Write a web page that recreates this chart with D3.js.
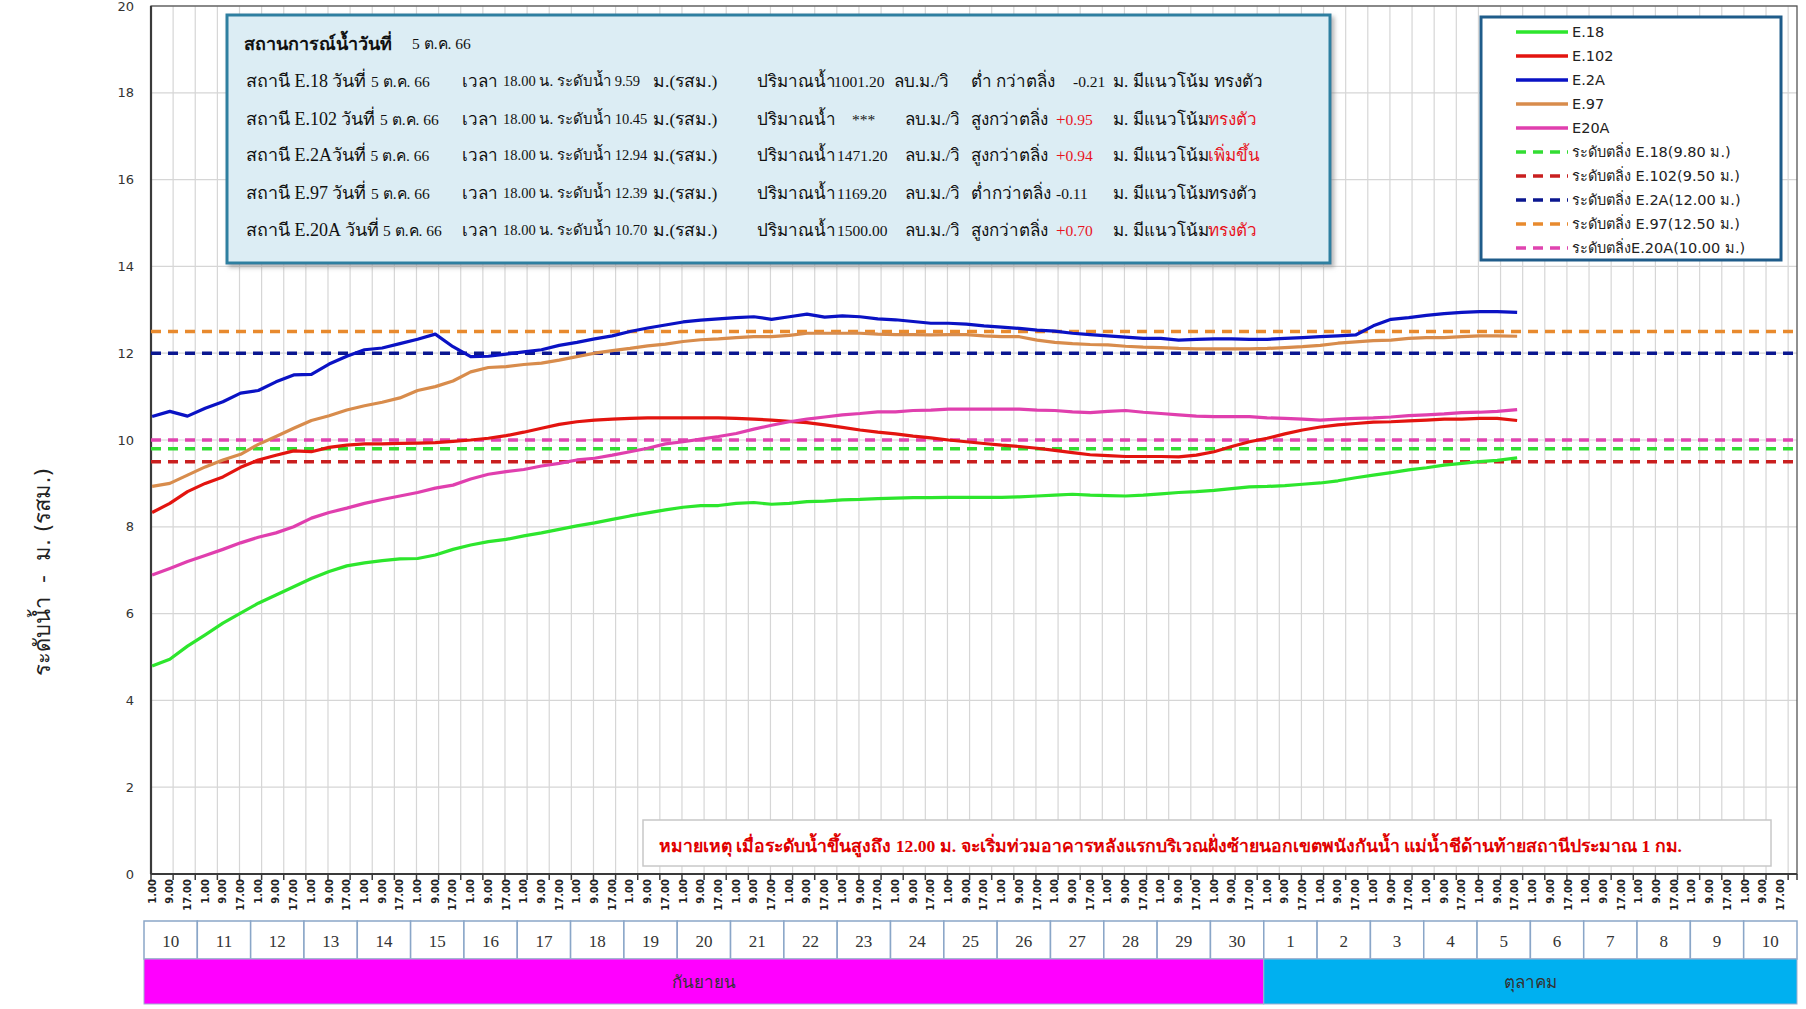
<!DOCTYPE html>
<html><head><meta charset="utf-8">
<script src="https://cdn.jsdelivr.net/npm/d3@7"></script>
<style>body{margin:0;background:#fff;overflow:hidden} svg{display:block}</style>
</head><body>
<svg id="c" width="1806" height="1009"></svg>
<script>
// ---------------- DATA ----------------
const dayLabels = [10,11,12,13,14,15,16,17,18,19,20,21,22,23,24,25,26,27,28,29,30,1,2,3,4,5,6,7,8,9,10];
const monthNames = ["กันยายน","ตุลาคม"];
const monthDayCounts = [21,10];
const hourTickLabels = ["1.00","9.00","17.00"];
const yTickValues = [0,2,4,6,8,10,12,14,16,18,20];
const seriesNames = ["E.18","E.102","E.2A","E.97","E20A"];

// values sampled at 1.00, 9.00, 17.00 of each day from 10 Sep, last point = 5 Oct 18.00
const e18 = [4.79,4.95,5.25, 5.51,5.78,6.01, 6.24,6.43,6.62, 6.81,6.97,7.10, 7.17,7.22,7.26,
  7.27,7.35,7.48, 7.58,7.66,7.71, 7.79,7.86,7.94, 8.02,8.09,8.17, 8.25,8.32,8.39,
  8.45,8.49,8.49, 8.54,8.56,8.52, 8.54,8.58,8.59, 8.62,8.63,8.65, 8.66,8.67,8.67,
  8.68,8.68,8.68, 8.68,8.69,8.71, 8.73,8.75,8.73, 8.72,8.71,8.73, 8.76,8.79,8.81,
  8.84,8.88,8.92, 8.93,8.95,8.98, 9.01,9.06,9.13, 9.19,9.25,9.31, 9.36,9.42,9.46, 9.50,9.53,9.59];
const e102 = [8.33,8.54,8.81, 9.00,9.15,9.37, 9.54,9.65,9.75, 9.73,9.83,9.88, 9.91,9.91,9.92,
  9.93,9.94,9.97, 10.00,10.04,10.10, 10.18,10.27,10.36, 10.42,10.46,10.48, 10.50,10.51,10.51,
  10.51,10.51,10.51, 10.50,10.48,10.46, 10.43,10.40,10.35, 10.29,10.23,10.18, 10.14,10.09,10.05,
  10.00,9.96,9.92, 9.88,9.85,9.81, 9.76,9.71,9.66, 9.64,9.62,9.62, 9.62,9.61,9.65,
  9.73,9.85,9.96, 10.04,10.14,10.23, 10.30,10.35,10.38, 10.41,10.42,10.44, 10.46,10.48,10.48, 10.50,10.50,10.45];
const e2a = [10.54,10.66,10.55, 10.73,10.88,11.08, 11.14,11.34,11.50, 11.51,11.75,11.93, 12.08,12.12,12.22,
  12.32,12.44,12.15, 11.92,11.93,11.98, 12.03,12.08,12.18, 12.25,12.33,12.40, 12.50,12.58,12.65,
  12.72,12.76,12.79, 12.82,12.84,12.78, 12.84,12.90,12.83, 12.86,12.84,12.79, 12.77,12.73,12.69,
  12.69,12.67,12.63, 12.60,12.57,12.53, 12.51,12.46,12.43, 12.40,12.37,12.34, 12.34,12.30,12.32,
  12.33,12.33,12.32, 12.32,12.34,12.36, 12.38,12.40,12.42, 12.63,12.78,12.82, 12.87,12.91,12.94, 12.96,12.96,12.94];
const e97 = [8.93,9.00,9.19, 9.38,9.54,9.67, 9.90,10.08,10.27, 10.45,10.56,10.69, 10.79,10.87,10.97,
  11.14,11.23,11.36, 11.57,11.67,11.69, 11.74,11.77,11.84, 11.92,12.00,12.06, 12.11,12.17,12.21,
  12.27,12.31,12.33, 12.36,12.38,12.38, 12.41,12.46,12.46, 12.46,12.46,12.44, 12.43,12.43,12.42,
  12.43,12.43,12.40, 12.38,12.38,12.30, 12.25,12.22,12.20, 12.19,12.16,12.14, 12.13,12.11,12.10,
  12.10,12.10,12.10, 12.11,12.13,12.15, 12.18,12.23,12.26, 12.29,12.30,12.34, 12.36,12.36,12.38, 12.40,12.40,12.39];
const e20a = [6.89,7.04,7.20, 7.34,7.48,7.63, 7.76,7.86,8.00, 8.20,8.33,8.43, 8.54,8.63,8.71,
  8.79,8.89,8.96, 9.10,9.21,9.27, 9.32,9.40,9.46, 9.54,9.58,9.65, 9.73,9.81,9.91,
  9.96,10.02,10.08, 10.15,10.25,10.34, 10.42,10.48,10.53, 10.58,10.61,10.65, 10.65,10.68,10.69,
  10.71,10.71,10.71, 10.71,10.71,10.69, 10.68,10.65,10.63, 10.66,10.68,10.64, 10.61,10.58,10.55,
  10.54,10.54,10.54, 10.51,10.50,10.48, 10.46,10.48,10.50, 10.51,10.53,10.56, 10.58,10.60,10.63, 10.64,10.66,10.70];
const thresholdValues = [9.80, 9.50, 12.00, 12.50, 10.00];
const thresholdNames = ["ระดับตลิ่ง E.18(9.80 ม.)","ระดับตลิ่ง E.102(9.50 ม.)","ระดับตลิ่ง E.2A(12.00 ม.)","ระดับตลิ่ง E.97(12.50 ม.)","ระดับตลิ่งE.20A(10.00 ม.)"];

// info box table
const infoTitle = "สถานการณ์น้ำวันที่";
const infoDate = "5 ต.ค. 66";
const infoStations = ["E.18 ","E.102 ","E.2A","E.97 ","E.20A "];
const infoTime = "18.00";
const infoLevels = ["9.59","10.45","12.94","12.39","10.70"];
const infoFlows = ["1001.20","***","1471.20","1169.20","1500.00"];
const infoCompare = ["ต่ำ กว่าตลิ่ง","สูงกว่าตลิ่ง","สูงกว่าตลิ่ง","ต่ำกว่าตลิ่ง","สูงกว่าตลิ่ง"];
const infoDiffs = ["-0.21","+0.95","+0.94","-0.11","+0.70"];
const infoTrends = ["ทรงตัว","ทรงตัว","เพิ่มขึ้น","ทรงตัว","ทรงตัว"];
const infoTrendRed = [false,true,true,false,true];
const noteText = "หมายเหตุ เมื่อระดับน้ำขึ้นสูงถึง 12.00 ม. จะเริ่มท่วมอาคารหลังแรกบริเวณฝั่งซ้ายนอกเขตพนังกันน้ำ แม่น้ำชีด้านท้ายสถานีประมาณ 1 กม.";
const yTitle = "ระดับน้ำ  -  ม. (รสม.)";

// ---------------- STYLE / LAYOUT ----------------
const lineColors = ["#2de62d","#e3140f","#0a12c4","#d88c4c","#e03fae"];
const dashColors = ["#33dd33","#c91f1f","#0b1790","#e88a2e","#e044b0"];
const plot = {left:151, right:1797, top:6, bottom:874};
const hoursPerDay = 24;
const nHours = dayLabels.length * hoursPerDay;
const sampleHours = e18.map((_, k) => Math.floor(k/3)*hoursPerDay + [0,8,16][k%3]);
sampleHours[sampleHours.length-1] = 25*hoursPerDay + 17;

const svg = d3.select("#c");
const x = d3.scaleLinear().domain([0, nHours]).range([plot.left, plot.right]);
const y = d3.scaleLinear().domain([0, 20]).range([plot.bottom, plot.top]);
const xc = h => x(h + 0.5);

const sansFont = "'DejaVu Sans', 'Noto Sans', sans-serif";
const serifFont = "'Liberation Serif', 'DejaVu Serif', serif";

// grid
const grid = svg.append("g");
grid.selectAll("line.h").data(yTickValues.filter(v => v > 0)).join("line")
  .attr("x1", plot.left).attr("x2", plot.right)
  .attr("y1", d => y(d)).attr("y2", d => y(d))
  .attr("stroke", "#d6d6d6").attr("stroke-width", 1.2);
const vTicks = d3.range(10, nHours, 10);
grid.selectAll("line.v").data(vTicks).join("line")
  .attr("x1", d => x(d)).attr("x2", d => x(d))
  .attr("y1", plot.top).attr("y2", plot.bottom)
  .attr("stroke", "#d6d6d6").attr("stroke-width", 1.2);

// frame
svg.append("rect").attr("x", plot.left).attr("y", plot.top)
  .attr("width", plot.right - plot.left).attr("height", plot.bottom - plot.top)
  .attr("fill", "none").attr("stroke", "#555").attr("stroke-width", 1.3);
svg.append("line").attr("x1", plot.left).attr("x2", plot.left).attr("y1", plot.top).attr("y2", plot.bottom)
  .attr("stroke", "#3a3a3a").attr("stroke-width", 2.2);
svg.append("line").attr("x1", plot.left).attr("x2", plot.right).attr("y1", plot.bottom).attr("y2", plot.bottom)
  .attr("stroke", "#3a3a3a").attr("stroke-width", 1.8);

// y axis labels
svg.append("g").selectAll("text").data(yTickValues).join("text")
  .attr("x", 134).attr("y", d => y(d)).attr("dy", "0.35em")
  .attr("text-anchor", "end").attr("font-family", sansFont).attr("font-size", 13)
  .attr("fill", "#333").text(d => d);

// x ticks
svg.append("g").selectAll("line").data([0, ...vTicks, nHours]).join("line")
  .attr("x1", d => x(d)).attr("x2", d => x(d))
  .attr("y1", plot.bottom).attr("y2", plot.bottom + 6)
  .attr("stroke", "#3a3a3a").attr("stroke-width", 1.5);
const labelHours = d3.range(0, nHours, 8);
svg.append("g").selectAll("text").data(labelHours).join("text")
  .attr("transform", d => `translate(${xc(d)},${plot.bottom + 5}) rotate(-90)`)
  .attr("dy", "0.35em").attr("text-anchor", "end")
  .attr("font-family", sansFont).attr("font-size", 10).attr("font-weight", "bold").attr("fill", "#222")
  .text(d => hourTickLabels[(d % 24) / 8]);

// threshold dashed lines
const thr = svg.append("g");
thresholdValues.forEach((v, i) => {
  thr.append("line").attr("x1", x(0)).attr("x2", x(nHours))
    .attr("y1", y(v)).attr("y2", y(v))
    .attr("stroke", dashColors[i]).attr("stroke-width", 3.6).attr("stroke-dasharray", "10,7");
});

// series
const allSeries = [e18, e102, e2a, e97, e20a];
const lineGen = d3.line().x(d => xc(d.h)).y(d => y(d.v));
allSeries.forEach((s, i) => {
  const pts = s.map((v, k) => ({h: sampleHours[k], v}));
  svg.append("path").datum(pts).attr("d", lineGen)
    .attr("fill", "none").attr("stroke", lineColors[i]).attr("stroke-width", 3.2)
    .attr("stroke-linejoin", "round");
});

// y title
svg.append("text").attr("transform", "translate(42,572) rotate(-90)")
  .attr("text-anchor", "middle").attr("dy", "0.35em")
  .attr("font-family", sansFont).attr("font-size", 22).attr("fill", "#222")
  .style("white-space", "pre").text(yTitle);

// day table
const tbl = {left:144, right:1797, top:921, mid:959, bottom:1004};
const xd = d3.scaleBand().domain(d3.range(dayLabels.length)).range([tbl.left, tbl.right]);
const dayG = svg.append("g");
dayG.selectAll("rect").data(dayLabels).join("rect")
  .attr("x", (d, i) => xd(i)).attr("y", tbl.top).attr("width", xd.bandwidth()).attr("height", tbl.mid - tbl.top)
  .attr("fill", "#fff").attr("stroke", "#8aa6c8").attr("stroke-width", 1.5);
dayG.selectAll("text").data(dayLabels).join("text")
  .attr("x", (d, i) => xd(i) + xd.bandwidth()/2).attr("y", (tbl.top + tbl.mid)/2 + 1).attr("dy", "0.35em")
  .attr("text-anchor", "middle").attr("font-family", serifFont).attr("font-size", 17).attr("fill", "#333")
  .text(d => d);
const monthColors = ["#ff00ff", "#00b0f0"];
let startDay = 0;
monthNames.forEach((m, i) => {
  const x0 = xd(startDay), x1 = xd(startDay + monthDayCounts[i] - 1) + xd.bandwidth();
  svg.append("rect").attr("x", x0).attr("y", tbl.mid).attr("width", x1 - x0).attr("height", tbl.bottom - tbl.mid)
    .attr("fill", monthColors[i]).attr("stroke", "#a0b0d0").attr("stroke-width", 1);
  svg.append("text").attr("x", (x0 + x1)/2).attr("y", (tbl.mid + tbl.bottom)/2 + 1).attr("dy", "0.35em")
    .attr("text-anchor", "middle").attr("font-family", sansFont).attr("font-size", 17).attr("fill", "#333").text(m);
  startDay += monthDayCounts[i];
});

// info box
const defs = svg.append("defs");
const f = defs.append("filter").attr("id", "sh").attr("x", "-5%").attr("y", "-5%").attr("width", "115%").attr("height", "120%");
f.append("feDropShadow").attr("dx", 3).attr("dy", 3).attr("stdDeviation", 2).attr("flood-color", "#888").attr("flood-opacity", 0.6);
svg.append("rect").attr("x", 227).attr("y", 15).attr("width", 1103).attr("height", 248)
  .attr("fill", "#dcedf4").attr("stroke", "#2f7fa0").attr("stroke-width", 3).attr("filter", "url(#sh)");
const info = svg.append("g").attr("font-family", serifFont).attr("font-size", 17).attr("fill", "#111");
info.append("text").attr("x", 244).attr("y", 44).attr("dy", "0.35em").attr("font-weight", "bold").attr("font-size", 18).text(infoTitle);
info.append("text").attr("x", 412).attr("y", 44).attr("dy", "0.35em").attr("font-size", 15.5).text(infoDate);
const rowY = [81, 119, 155, 193, 230];
const red = "#e8141e";
function seg(parts, xPos, yPos, color, size, nSize) {
  const t = info.append("text").attr("x", xPos).attr("y", yPos).attr("dy", "0.35em").attr("fill", color)
    .style("white-space", "pre");
  if (size) t.attr("font-size", size);
  parts.forEach(p => t.append("tspan").attr("font-size", p[1] ? (nSize || 15.5) : null).text(p[0]));
}
infoStations.forEach((st, r) => {
  const yy = rowY[r];
  const first = r === 0;
  seg([[`สถานี ${st}วันที่ `, false], [infoDate, true]], 246, yy, "#111", 18);
  seg([["เวลา", false]], 462, yy, "#111");
  seg([[infoTime, true], [" น. ระดับน้ำ ", false], [infoLevels[r], true]], 503, yy, "#111", 15, 14.5);
  seg([["ม.(รสม.)", false]], 653, yy, "#111", 17.5);
  seg([["ปริมาณน้ำ", false]], 757, yy, "#111");
  seg([[infoFlows[r], true]], infoFlows[r] === "***" ? 852 : (first ? 834 : 837), yy, "#111");
  seg([["ลบ.ม./วิ", false]], first ? 894 : 905, yy, "#111");
  seg([[infoCompare[r], false]], 971, yy, "#111");
  const plus = infoDiffs[r][0] === "+";
  if (plus) seg([["+", false], [infoDiffs[r].slice(1), true]], 1056, yy, red);
  else seg([[infoDiffs[r], true]], first ? 1073 : 1056, yy, "#111");
  seg([["ม. มีแนวโน้ม", false]], 1113, yy, "#111");
  seg([[infoTrends[r], false]], first ? 1214 : 1208, yy, infoTrendRed[r] ? red : "#111");
});

// legend
svg.append("rect").attr("x", 1481).attr("y", 17).attr("width", 300).attr("height", 243)
  .attr("fill", "#fff").attr("stroke", "#1f5c8a").attr("stroke-width", 3);
const legItems = seriesNames.map((n, i) => ({name: n, color: lineColors[i], dash: null}))
  .concat(thresholdNames.map((n, i) => ({name: n, color: dashColors[i], dash: "10,7"})));
const ly = d3.scalePoint().domain(d3.range(legItems.length)).range([32, 248]);
const leg = svg.append("g");
legItems.forEach((it, i) => {
  leg.append("line").attr("x1", 1516).attr("x2", 1568).attr("y1", ly(i)).attr("y2", ly(i))
    .attr("stroke", it.color).attr("stroke-width", 3.6).attr("stroke-dasharray", it.dash);
  leg.append("text").attr("x", 1572).attr("y", ly(i)).attr("dy", "0.35em")
    .attr("font-family", sansFont).attr("font-size", 14.5).attr("fill", "#222").text(it.name);
});

// note box
svg.append("rect").attr("x", 643).attr("y", 820).attr("width", 1128).attr("height", 46)
  .attr("fill", "#fff").attr("stroke", "#c8c8c8").attr("stroke-width", 1.5);
svg.append("text").attr("x", 659).attr("y", 847).attr("dy", "0.3em")
  .attr("font-family", serifFont).attr("font-size", 17.6).attr("font-weight", "bold").attr("fill", "#e00000").text(noteText);
</script>
</body></html>
